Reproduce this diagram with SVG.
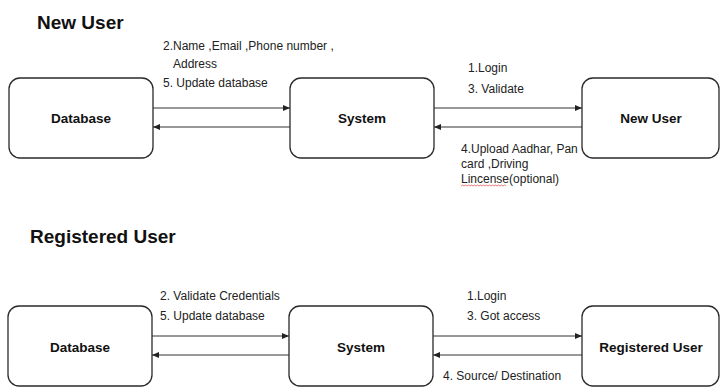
<svg xmlns="http://www.w3.org/2000/svg" width="720" height="387" viewBox="0 0 720 387">
<defs>
<marker id="ah" markerWidth="8" markerHeight="6" refX="7" refY="3" orient="auto" markerUnits="userSpaceOnUse">
<path d="M0,0 L7,3 L0,6 Z" fill="#222"/>
</marker>
<style>
.box{fill:#fff;stroke:#2a2a2a;stroke-width:1.3}
.nl{font-family:"Liberation Sans",Arial,sans-serif;font-weight:bold;font-size:13.5px;fill:#111;text-anchor:middle}
.ttl{font-family:"Liberation Sans",Arial,sans-serif;font-weight:bold;font-size:19px;fill:#111}
.lb{font-family:"Liberation Sans",Arial,sans-serif;font-size:12px;fill:#222}
.ln{stroke:#333;stroke-width:1;fill:none;marker-end:url(#ah)}
</style>
</defs>
<rect width="720" height="387" fill="#fff"/>
<text class="ttl" x="37" y="29">New User</text>
<text class="ttl" x="30" y="243">Registered User</text>

<g id="db1"><rect class="box" x="9" y="78" width="144" height="80" rx="11"/><text class="nl" x="81" y="123">Database</text></g>
<g id="sys1"><rect class="box" x="290" y="78" width="144" height="80" rx="11"/><text class="nl" x="362" y="123">System</text></g>
<g id="nu"><rect class="box" x="582" y="78" width="137" height="80" rx="11"/><text class="nl" x="651" y="123">New User</text></g>

<g id="db2"><rect class="box" x="8" y="306" width="144" height="80" rx="11"/><text class="nl" x="80" y="352">Database</text></g>
<g id="sys2"><rect class="box" x="289" y="306" width="144" height="80" rx="11"/><text class="nl" x="361" y="352">System</text></g>
<g id="ru"><rect class="box" x="582" y="306" width="137" height="80" rx="11"/><text class="nl" x="651" y="352">Registered User</text></g>

<g id="connectors">
<line class="ln" x1="153" y1="108" x2="290" y2="108"/>
<line class="ln" x1="290" y1="127" x2="153" y2="127"/>
<line class="ln" x1="434" y1="108" x2="582" y2="108"/>
<line class="ln" x1="582" y1="127" x2="434" y2="127"/>
<line class="ln" x1="152" y1="336" x2="289" y2="336"/>
<line class="ln" x1="289" y1="355" x2="152" y2="355"/>
<line class="ln" x1="433" y1="336" x2="582" y2="336"/>
<line class="ln" x1="582" y1="355" x2="433" y2="355"/>
</g>

<g id="labels">
<text class="lb" x="163" y="50">2.Name ,Email ,Phone number ,</text>
<text class="lb" x="173" y="68">Address</text>
<text class="lb" x="163" y="87">5. Update database</text>
<text class="lb" x="468" y="72">1.Login</text>
<text class="lb" x="468" y="93">3. Validate</text>
<text class="lb" x="461" y="153">4.Upload Aadhar, Pan</text>
<text class="lb" x="461" y="168">card ,Driving</text>
<text class="lb" x="461" y="183">Lincense(optional)</text>
<path d="M461,186 l1.5,-1 l1.5,1 l1.5,-1 l1.5,1 l1.5,-1 l1.5,1 l1.5,-1 l1.5,1 l1.5,-1 l1.5,1 l1.5,-1 l1.5,1 l1.5,-1 l1.5,1 l1.5,-1 l1.5,1 l1.5,-1 l1.5,1 l1.5,-1 l1.5,1 l1.5,-1 l1.5,1 l1.5,-1 l1.5,1 l1.5,-1 l1.5,1 l1.5,-1 l1.5,1 l1.5,-1 l1.5,1" fill="none" stroke="#e04040" stroke-width="0.7"/>
<text class="lb" x="160" y="300">2. Validate Credentials</text>
<text class="lb" x="160" y="320">5. Update database</text>
<text class="lb" x="467" y="300">1.Login</text>
<text class="lb" x="467" y="320">3. Got access</text>
<text class="lb" x="443" y="380">4. Source/ Destination</text>
</g>
</svg>
